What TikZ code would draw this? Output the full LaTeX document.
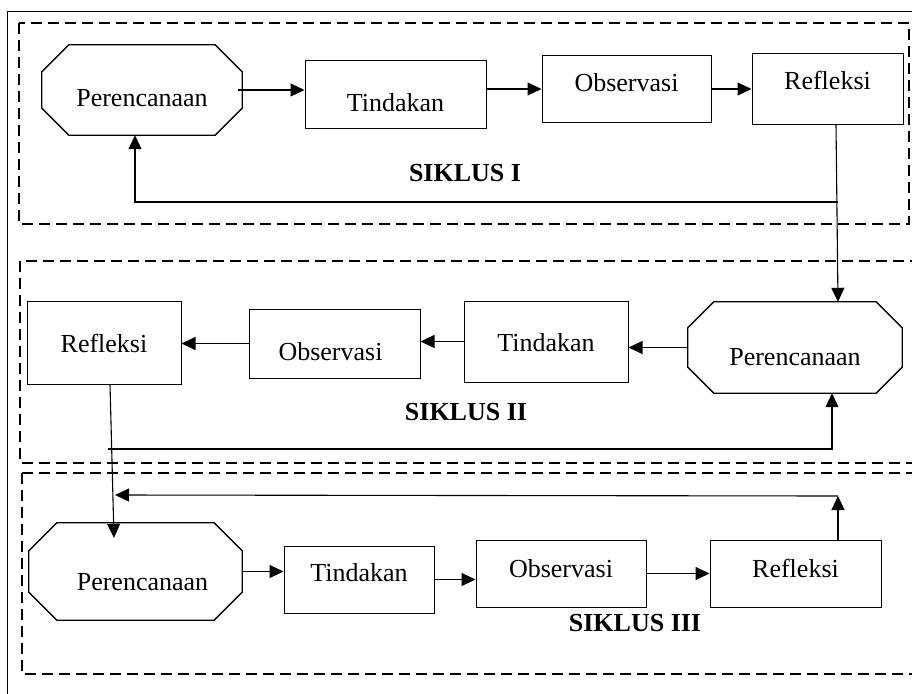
\documentclass[tikz,border=0pt]{standalone}
\usepackage{fontspec}
\setmainfont{Liberation Serif}
\usetikzlibrary{arrows.meta}

\tikzset{
  stepbox/.style={draw, line width=1pt, inner sep=0pt},
  plan/.style={inner sep=0pt},
  cyc/.style={line width=1.2pt, dash pattern=on 11pt off 6pt},
  link/.style={line width=1.1pt, -{Triangle[length=14pt,width=13pt]}},
  lbl/.style={font=\fontsize{26}{30}\selectfont\bfseries}
}
\newcommand\octagon[2]{\draw[line width=1.3pt] ([xshift=#2]#1.north west) -- ([xshift=-#2]#1.north east)
  -- ([yshift=-#2]#1.north east) -- ([yshift=#2]#1.south east) -- ([xshift=-#2]#1.south east)
  -- ([xshift=#2]#1.south west) -- ([yshift=#2]#1.south west) -- ([yshift=-#2]#1.north west) -- cycle;}

\begin{document}
\begin{tikzpicture}[x=1pt, y=-1pt, font=\fontsize{26}{30}\selectfont]
\useasboundingbox (0,0) rectangle (912,693);
\clip (0,0) rectangle (912,693);

% frame and cycles
\draw[line width=1pt] (7,12) rectangle (940,720);
\draw[cyc] (19,23) rectangle (909,224);
\draw[cyc] (20,261) rectangle (940,463);
\draw[cyc] (22,473) rectangle (940,674);

% siklus I
\node[plan, minimum width=200pt, minimum height=90pt,
  label={[yshift=-8pt]center:Perencanaan}] (per1) at (142,90) {};
\octagon{per1}{27}
\node[stepbox, minimum width=181pt, minimum height=67pt,
  label={[yshift=-8pt]center:Tindakan}] (tin1) at (395.5,94.5) {};
\node[stepbox, minimum width=169pt, minimum height=66pt,
  label={[yshift=6pt]center:Observasi}] (obs1) at (626.5,89) {};
\node[stepbox, minimum width=151pt, minimum height=70pt,
  label={[yshift=9pt]center:Refleksi}] (ref1) at (827.5,89) {};
\node[lbl] (sik1) at (465,173) {SIKLUS I};

% siklus II
\node[plan, minimum width=214pt, minimum height=91pt,
  label={[yshift=-10pt]center:Perencanaan}] (per2) at (795,347.5) {};
\octagon{per2}{26}
\node[stepbox, minimum width=164pt, minimum height=81pt,
  label={[yshift=-1pt]center:Tindakan}] (tin2) at (546,341.5) {};
\node[stepbox, minimum width=171pt, minimum height=69pt,
  label={[yshift=-8pt, xshift=-4pt]center:Observasi}] (obs2) at (334.5,343.5) {};
\node[stepbox, minimum width=154pt, minimum height=83pt,
  label={[yshift=-1pt]center:Refleksi}] (ref2) at (104,342.5) {};
\node[lbl] (sik2) at (466,412) {SIKLUS II};

% siklus III
\node[plan, minimum width=213pt, minimum height=97pt,
  label={[yshift=-11pt, xshift=7pt]center:Perencanaan}] (per3) at (135.5,571.5) {};
\octagon{per3}{28}
\node[stepbox, minimum width=150pt, minimum height=67pt,
  label={[yshift=7pt]center:Tindakan}] (tin3) at (359,579.5) {};
\node[stepbox, minimum width=170pt, minimum height=67pt,
  label={[yshift=5pt]center:Observasi}] (obs3) at (561,573.5) {};
\node[stepbox, minimum width=171pt, minimum height=67pt,
  label={[yshift=5pt]center:Refleksi}] (ref3) at (795.5,573.5) {};
\node[lbl] (sik3) at (635,623) {SIKLUS III};

\coordinate (fb1) at (838,202);
\coordinate (fb2) at (108,449);
\coordinate (fb3) at (838,496);
\coordinate (fb3end) at (115,495);

% arrows
\draw[link] ([xshift=-4pt]per1.east) -- (per1.east -| tin1.west);
\draw[link] (tin1.east |- obs1.west) -- (obs1.west);
\draw[link] (obs1.east) -- (obs1.east -| ref1.west);
\draw[link] ([xshift=8.5pt]ref1.south) -- ([xshift=43pt]per2.north);
\draw[link] (fb1) -| ([xshift=-7pt]per1.south);

\draw[link] (per2.west) -- (per2.west -| tin2.east);
\draw[link] (tin2.west) -- (tin2.west -| obs2.east);
\draw[link] (obs2.west) -- (obs2.west -| ref2.east);
\draw[link] ([xshift=6pt]ref2.south) -- ([xshift=-21.5pt, yshift=-15pt]per3.north);
\draw[link] (fb2) -| ([xshift=37pt]per2.south);

\draw[link] (per3.east) -- (per3.east -| tin3.west);
\draw[link] (tin3.east) -- (tin3.east -| obs3.west);
\draw[link] (obs3.east) -- (obs3.east -| ref3.west);
\draw[link] ([xshift=42.5pt]ref3.north) -- (fb3);
\draw[link] (fb3) -- (fb3end);
\end{tikzpicture}
\end{document}
